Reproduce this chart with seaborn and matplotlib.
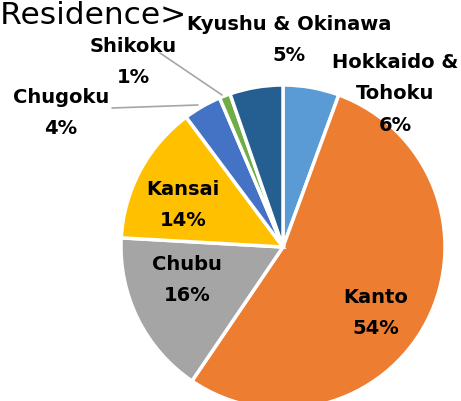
import numpy as np
import matplotlib
matplotlib.use("Agg")
import matplotlib.pyplot as plt
import seaborn as sns

regions = ["Hokkaido &\nTohoku", "Kanto", "Chubu", "Kansai", "Chugoku", "Shikoku", "Kyushu & Okinawa"]
shares = [5.6, 53.9, 16.4, 13.9, 3.8, 1.1, 5.3]
colors = ["#5B9BD5", "#ED7D31", "#A5A5A5", "#FFC000", "#4472C4", "#70AD47", "#255E91"]
title = "<Residence>"

sns.set_theme(style="white")
plt.rcParams['font.family'] = ['DejaVu Sans']

W, H = 461, 401
fig = plt.figure(figsize=(W / 100, H / 100), dpi=100)
ax = fig.add_axes([0, 0, 1, 1])
cx, cy, R = 283, 247, 162

wedges, _ = ax.pie(shares, colors=colors, startangle=90, counterclock=False,
                   radius=1.0, center=(0, 0), frame=True,
                   wedgeprops=dict(edgecolor='white', linewidth=2.5))
ax.set_xlim(-cx / R, (W - cx) / R)
ax.set_ylim((cy - H) / R, cy / R)
ax.set_aspect('equal')
ax.axis('off')

def px(x, y):
    return ((x - cx) / R, (cy - y) / R)

# label placement (pixel positions of label centers)
label_pos = {
    "Hokkaido &\nTohoku": (395, 94),
    "Kanto": (376, 313),
    "Chubu": (187, 280),
    "Kansai": (183, 205),
    "Chugoku": (61, 113),
    "Shikoku": (133, 62),
    "Kyushu & Okinawa": (289, 40),
}
for name, val in zip(regions, shares):
    x, y = label_pos[name]
    ax.text(*px(x, y), f"{name}\n{val:.0f}%", ha='center', va='center',
            fontsize=14, fontweight='bold', color='black', linespacing=1.85)

# leader lines
gray = "#A6A6A6"
ax.plot(*zip(px(160, 53), px(222, 95)), color=gray, lw=1.2)
ax.plot(*zip(px(112, 108), px(198, 105)), color=gray, lw=1.2)

fig.text(187 / W, 1 - 15 / H, title, ha='right', va='center', fontsize=22.5, color='black')

fig.savefig("out.png", dpi=100)
